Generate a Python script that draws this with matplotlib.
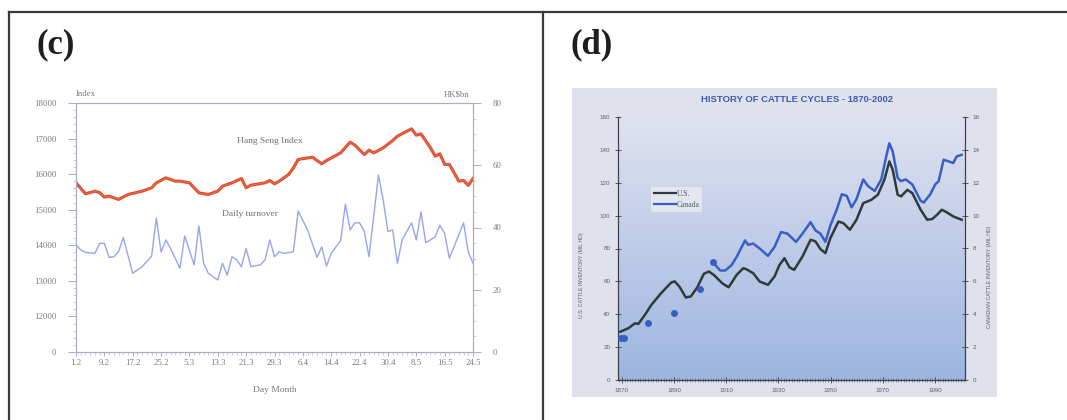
import numpy as np
import matplotlib
matplotlib.use("Agg")
import matplotlib.pyplot as plt
from matplotlib.lines import Line2D
from matplotlib.patches import Rectangle
from matplotlib.ticker import MultipleLocator

# ---------------- Panel (c) data ----------------
day_labels = ["1.2", "9.2", "17.2", "25.2", "5.3", "13.3", "21.3", "29.3",
              "6.4", "14.4", "22.4", "30.4", "8.5", "16.5", "24.5"]
left_ticks = [11000, 12000, 13000, 14000, 15000, 16000, 17000, 18000]
left_tick_labels = ["0", "12000", "13000", "14000", "15000", "16000", "17000", "18000"]
right_ticks = [0, 20, 40, 60, 80]

hsi_day = [0, 2, 4, 5, 6, 7, 9, 11, 14, 16, 17, 19, 21, 22, 24, 26, 28, 30, 31,
           33, 35, 36, 37, 40, 41, 42, 43, 45, 46, 47, 50, 52, 53, 56, 58, 59,
           61, 62, 63, 65, 67, 68, 71, 72, 73, 75, 76, 77, 78, 79, 81, 82, 83, 84]
hsi_val = [15756, 15447, 15522, 15480, 15354, 15382, 15289, 15427, 15522, 15616,
           15756, 15897, 15803, 15803, 15756, 15475, 15428, 15522, 15663, 15756,
           15878, 15616, 15691, 15756, 15822, 15728, 15803, 15990, 16178, 16412,
           16477, 16290, 16383, 16600, 16900, 16815, 16550, 16674, 16598, 16739,
           16945, 17067, 17275, 17095, 17132, 16739, 16505, 16571, 16272, 16272,
           15803, 15822, 15683, 15878]

turn_day = [0, 1, 2, 4, 5, 6, 7, 8, 9, 10, 12, 14, 16, 17, 18, 19, 20, 22, 23,
            25, 26, 27, 28, 30, 31, 32, 33, 34, 35, 36, 37, 39, 40, 41, 42, 43,
            44, 46, 47, 49, 51, 52, 53, 54, 56, 57, 58, 59, 60, 61, 62, 64, 65,
            66, 67, 68, 69, 71, 72, 73, 74, 76, 77, 78, 79, 82, 83, 84]
turn_val = [34.4, 32.8, 32.0, 31.7, 34.9, 34.9, 30.4, 30.6, 32.2, 36.8, 25.3,
            27.4, 30.8, 43.0, 32.1, 36.0, 33.3, 26.9, 37.3, 28.0, 40.5, 28.5,
            25.3, 23.1, 28.5, 24.7, 30.6, 29.6, 27.4, 33.3, 27.4, 28.0, 29.6,
            36.0, 30.6, 32.2, 31.7, 32.2, 45.3, 39.2, 30.4, 33.8, 27.6, 31.7,
            35.8, 47.5, 39.2, 41.5, 41.5, 38.7, 30.6, 56.9, 48.8, 38.7, 39.2,
            28.5, 36.0, 41.5, 36.0, 45.0, 35.1, 37.0, 40.7, 38.1, 30.1, 41.5,
            32.1, 28.5]

# ---------------- Panel (d) data ----------------
year_ticks = [1870, 1890, 1910, 1930, 1950, 1970, 1990]
us_year = [1869.4, 1872.5, 1875.0, 1876.3, 1878.8, 1881.3, 1885.0, 1888.9, 1890.2,
           1892.0, 1894.5, 1896.4, 1898.9, 1901.4, 1903.3, 1905.2, 1908.4, 1910.9,
           1914.0, 1916.5, 1917.7, 1920.3, 1922.8, 1926.0, 1928.5, 1930.4, 1932.3,
           1934.2, 1936.0, 1939.2, 1942.3, 1944.2, 1946.1, 1948.0, 1949.9, 1953.0,
           1954.9, 1957.4, 1959.9, 1962.5, 1965.6, 1968.1, 1970.6, 1972.5, 1973.8,
           1975.7, 1977.0, 1979.4, 1981.3, 1984.5, 1987.0, 1988.9, 1990.8, 1992.6,
           1994.5, 1997.0, 2000.2]
us_val = [29.4, 31.5, 34.5, 34.1, 39.6, 45.7, 52.8, 59.3, 60.0, 56.9, 50.2, 50.8,
          56.4, 64.6, 66.0, 64.0, 58.9, 56.4, 64.0, 68.0, 67.4, 65.0, 59.9, 57.9,
          63.0, 70.0, 74.1, 68.6, 67.0, 75.1, 85.3, 84.3, 79.6, 77.2, 86.3, 96.4,
          95.4, 91.4, 97.5, 107.6, 109.6, 112.7, 121.8, 133.0, 127.9, 112.7, 111.7,
          115.7, 113.7, 103.6, 97.5, 97.9, 100.5, 103.6, 102.0, 99.5, 97.5]

can_dot_year = [1869.8, 1870.8, 1880.0, 1890.0, 1900.0, 1905.0]
can_dot_val = [2.58, 2.58, 3.45, 4.06, 5.52, 7.15]
can_year = [1905.2, 1907.7, 1909.6, 1912.1, 1914.0, 1917.2, 1918.4, 1920.3, 1922.8,
            1926.0, 1928.5, 1931.0, 1933.5, 1936.7, 1939.2, 1942.3, 1944.2, 1946.1,
            1948.0, 1949.9, 1952.4, 1954.3, 1956.2, 1958.0, 1959.9, 1962.5, 1964.3,
            1966.9, 1969.4, 1971.3, 1972.5, 1973.8, 1975.7, 1976.9, 1978.8, 1981.3,
            1984.5, 1985.7, 1988.2, 1990.1, 1991.4, 1993.3, 1995.2, 1997.0, 1998.3,
            2000.2]
can_val = [7.1, 6.66, 6.66, 7.0, 7.5, 8.49, 8.22, 8.3, 8.0, 7.55, 8.1, 9.0, 8.9,
           8.4, 8.9, 9.6, 9.1, 8.9, 8.4, 9.4, 10.4, 11.3, 11.2, 10.5, 11.0, 12.2,
           11.8, 11.5, 12.2, 13.6, 14.4, 13.9, 12.3, 12.1, 12.2, 11.9, 10.9, 10.8,
           11.3, 11.9, 12.1, 13.4, 13.3, 13.2, 13.6, 13.7]

W, H = 1067, 420


def rect(x0, y0, x1, y1):
    return [x0 / W, 1 - y1 / H, (x1 - x0) / W, (y1 - y0) / H]


fig = plt.figure(figsize=(W / 100, H / 100), dpi=100)
fig.patch.set_facecolor("white")

# panel frames
for xs, ys in [([9 / W, 1.0], [1 - 12 / H, 1 - 12 / H]),
               ([9 / W, 9 / W], [1 - 12 / H, 0.0]),
               ([543 / W, 543 / W], [1 - 12 / H, 0.0])]:
    fig.add_artist(Line2D(xs, ys, transform=fig.transFigure, color="#3a3a3a", lw=1.6))

fig.text(36 / W, 1 - 45 / H, "(c)", family="Liberation Serif", weight="bold",
         fontsize=25, va="center", ha="left", color="#1e1e1e")
fig.text(571 / W, 1 - 45 / H, "(d)", family="Liberation Serif", weight="bold",
         fontsize=25, va="center", ha="left", color="#1e1e1e")

# ---------------- Panel (c) ----------------
serif = "Liberation Serif"
gray = "#7a7a7a"
axc = fig.add_axes(rect(76, 103, 473, 352))
axc2 = axc.twinx()
for a in (axc, axc2):
    for s in a.spines.values():
        s.set_color("#a9aec4")
        s.set_linewidth(0.8)

axc.set_xlim(0, 84)
axc.set_ylim(11000, 18000)
axc.set_yticks(left_ticks)
axc.set_yticklabels(left_tick_labels)
axc.yaxis.set_minor_locator(MultipleLocator(200))
axc.set_xticks(np.arange(0, 85, 6))
axc.set_xticklabels(day_labels)
axc.xaxis.set_minor_locator(MultipleLocator(1))
axc.tick_params(axis="both", which="major", labelsize=6.3, colors="#a9aec4",
                labelcolor=gray, length=6, width=0.7, direction="out")
axc.tick_params(axis="both", which="minor", colors="#b8bccc", length=2.5, width=0.5,
                direction="out")
axc.tick_params(axis="y", pad=8)
axc.tick_params(axis="x", which="major", length=3, pad=2)
for lab in axc.get_xticklabels() + axc.get_yticklabels():
    lab.set_family(serif)

axc2.set_ylim(0, 80)
axc2.set_yticks(right_ticks)
axc2.yaxis.set_minor_locator(MultipleLocator(5))
axc2.tick_params(axis="y", which="major", labelsize=6.3, colors="#a9aec4",
                 labelcolor=gray, length=6, width=0.7, pad=8)
axc2.tick_params(axis="y", which="minor", colors="#b8bccc", length=2.5, width=0.5)
for lab in axc2.get_yticklabels():
    lab.set_family(serif)

axc.plot(hsi_day, hsi_val, color="#e04a32", lw=2.2, solid_joinstyle="round")
axc.plot(hsi_day, hsi_val, color="#f0a050", lw=0.5, alpha=0.5)
axc2.plot(turn_day, turn_val, color="#99a4f0", lw=1.0)

axc.text(0.489, 0.847, "Hang Seng Index", transform=axc.transAxes, ha="center",
         va="center", fontsize=6.8, family=serif, color="#707070")
axc.text(0.438, 0.554, "Daily turnover", transform=axc.transAxes, ha="center",
         va="center", fontsize=6.8, family=serif, color="#707070")
axc.text(0.0, 1.02, "Index", transform=axc.transAxes, ha="left", va="bottom",
         fontsize=6.3, family=serif, color=gray)
axc.text(0.99, 1.02, "HK\\$bn", transform=axc.transAxes, ha="right", va="bottom",
         fontsize=6.3, family=serif, color=gray)
axc.set_xlabel("Day Month", fontsize=6.8, family=serif, color=gray, labelpad=14)

# ---------------- Panel (d) ----------------
fig.add_artist(Rectangle((572 / W, 1 - 397 / H), 425 / W, 309 / H,
                         transform=fig.transFigure, facecolor="#dfe1ec",
                         edgecolor="none", zorder=0))
fig.text(797 / W, 1 - 100 / H, "HISTORY OF CATTLE CYCLES - 1870-2002",
         ha="center", va="center", fontsize=6.8, weight="bold",
         family="Liberation Sans", color="#3d5bb0")

axd = fig.add_axes(rect(618, 117, 965, 380))
axd.set_facecolor("none")
top_c = np.array([0xdf, 0xe2, 0xf0]) / 255
bot_c = np.array([0x9c, 0xb5, 0xe0]) / 255
tvals = np.linspace(0, 1, 256)[:, None]
grad = top_c[None, :] * (1 - tvals) + bot_c[None, :] * tvals
axd.imshow(grad[:, None, :], extent=[1868.5, 2001.5, 0, 160], aspect="auto",
           zorder=0, origin="upper")
axd.set_xlim(1868.5, 2001.5)
axd.set_ylim(0, 160)

axd2 = axd.twinx()
axd2.set_ylim(0, 16)
dk = "#3b3f4a"
for a in (axd, axd2):
    a.spines["top"].set_visible(False)
    for s in ("left", "right", "bottom"):
        a.spines[s].set_color(dk)
        a.spines[s].set_linewidth(0.8)
axd.set_yticks(np.arange(0, 161, 20))
axd.set_xticks(year_ticks)
axd.xaxis.set_minor_locator(MultipleLocator(1))
axd.tick_params(axis="both", which="major", labelsize=4.5, colors=dk,
                labelcolor="#5a5f70", length=4, width=0.6, direction="inout")
axd.tick_params(axis="x", which="minor", colors="#6a6f80", length=3, width=0.5,
                direction="inout")
axd2.set_yticks(np.arange(0, 17, 2))
axd2.tick_params(axis="y", labelsize=4.5, colors=dk, labelcolor="#5a5f70",
                 length=4, width=0.6, direction="inout")
for lab in axd.get_xticklabels() + axd.get_yticklabels() + axd2.get_yticklabels():
    lab.set_family("Liberation Sans")

axd.plot(us_year, us_val, color="#2e3b3a", lw=1.8, zorder=3)
axd2.plot(can_year, can_val, color="#3a5fc4", lw=1.8, zorder=3)
axd2.scatter(can_dot_year, can_dot_val, s=16, color="#3a5fc4", zorder=3)

handles = [Line2D([], [], color="#2e3b3a", lw=1.6), Line2D([], [], color="#3a5fc4", lw=1.6)]
leg = axd2.legend(handles, ["U.S.", "Canada"], loc="upper left",
                  bbox_to_anchor=(0.085, 0.75), frameon=True,
                  handlelength=2.8, handletextpad=0.1, borderpad=0.4,
                  labelspacing=0.4, prop={"family": "Liberation Serif", "size": 5.5})
leg.get_frame().set_facecolor("#e4e6ef")
leg.get_frame().set_edgecolor("none")
leg.get_frame().set_alpha(1.0)
for t in leg.get_texts():
    t.set_color("#555b6a")

fig.text(581 / W, 1 - 275 / H, "U.S. CATTLE INVENTORY (MIL HD)", rotation=90,
         ha="center", va="center", fontsize=3.8, family="Liberation Sans",
         color="#5a5f70")
fig.text(990 / W, 1 - 277 / H, "CANADIAN CATTLE INVENTORY (MIL HD)", rotation=90,
         ha="center", va="center", fontsize=3.8, family="Liberation Sans",
         color="#5a5f70")

fig.savefig("out.png", dpi=100)
